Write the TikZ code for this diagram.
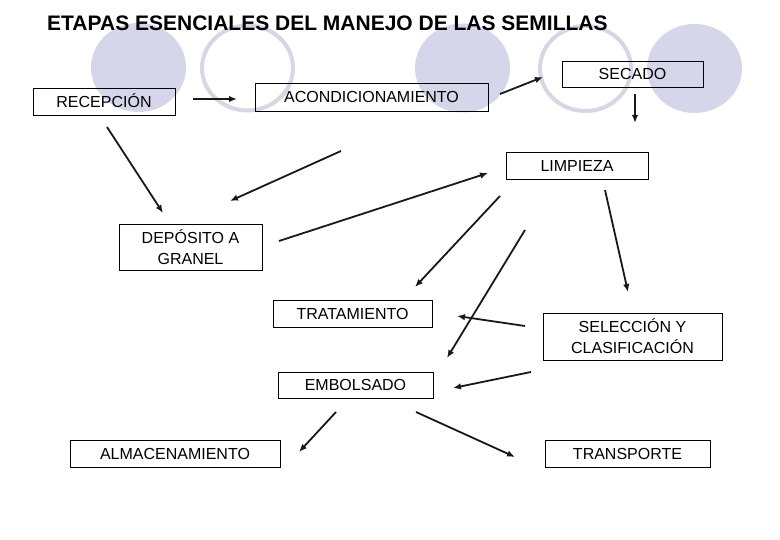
\documentclass[tikz,border=0pt]{standalone}
\usepackage{fontspec}
\setmainfont{Liberation Sans}
\usetikzlibrary{arrows.meta}
\definecolor{lila}{RGB}{214,214,234}
\definecolor{lilaborde}{RGB}{214,214,228}
\tikzset{
  etapa/.style={draw=black, line width=0.8pt, inner sep=0pt, align=center,
    font=\fontsize{16}{21}\selectfont},
  unalinea/.style={text height=11.5pt, text depth=0pt},
  flecha/.style={line width=1.8pt, draw=black!90, -{Latex[length=8pt,width=6.5pt]}},
}
\begin{document}
\begin{tikzpicture}[x=1pt, y=-1pt]
  \fill[white] (0,0) rectangle (780,540);
  \useasboundingbox (0,0) rectangle (780,540);
  % circulos de fondo
  \fill[lila] (138.5,67.5) ellipse [x radius=47.5pt, y radius=44.5pt];
  \draw[lilaborde, line width=4pt] (247.5,68) ellipse [x radius=45.5pt, y radius=42.5pt];
  \fill[lila] (462.5,68) ellipse [x radius=47.5pt, y radius=44.5pt];
  \draw[lilaborde, line width=4pt] (585.5,68.5) ellipse [x radius=45.5pt, y radius=42.5pt];
  \fill[lila] (694.5,68.5) ellipse [x radius=47.5pt, y radius=44.5pt];
  % titulo
  \node[anchor=base west, inner sep=0pt, font=\fontsize{21}{25}\selectfont\bfseries] (titulo) at (47,31) {ETAPAS ESENCIALES DEL MANEJO DE LAS SEMILLAS};
  % etapas
  \node[etapa, unalinea, minimum width=142pt, minimum height=27pt] (recep) at (104,101.5) {RECEPCIÓN};
  \node[etapa, unalinea, minimum width=233pt, minimum height=28pt] (acond) at (371.5,97) {ACONDICIONAMIENTO};
  \node[etapa, unalinea, minimum width=141pt, minimum height=26pt] (secado) at (632.5,74) {SECADO};
  \node[etapa, unalinea, minimum width=142pt, minimum height=27pt] (limp) at (577,165.5) {LIMPIEZA};
  \node[etapa, minimum width=143pt, minimum height=46pt] (deposito) at (190.5,247) {DEPÓSITO A\\ GRANEL};
  \node[etapa, unalinea, minimum width=159pt, minimum height=27pt] (trat) at (352.5,313.5) {TRATAMIENTO};
  \node[etapa, minimum width=179pt, minimum height=47pt] (selec) at (632.5,336.5) {SELECCIÓN Y\\ CLASIFICACIÓN};
  \node[etapa, unalinea, minimum width=155pt, minimum height=26pt] (embol) at (355.5,385) {EMBOLSADO};
  \node[etapa, unalinea, minimum width=210pt, minimum height=27pt] (almac) at (175,453.5) {ALMACENAMIENTO};
  \node[etapa, unalinea, minimum width=165pt, minimum height=27pt] (transp) at (627.5,453.5) {TRANSPORTE};
  % extremos de las flechas
  \coordinate (recep-s) at (193,99);   \coordinate (acond-e) at (237,99);
  \coordinate (acond-s) at (500,94);   \coordinate (secado-e) at (543,77);
  \coordinate (secado-s) at (635,94);  \coordinate (secado-f) at (635,123);
  \coordinate (recep-b) at (107,127);  \coordinate (deposito-e) at (163,213);
  \coordinate (acond-b) at (341,151);  \coordinate (deposito-d) at (230,201);
  \coordinate (deposito-s) at (279,241); \coordinate (limp-e) at (488,173);
  \coordinate (limp-a) at (500,196);   \coordinate (trat-e) at (415,287);
  \coordinate (limp-b) at (525,230);   \coordinate (embol-e) at (447,358);
  \coordinate (limp-c) at (605,190);   \coordinate (selec-e) at (628,292);
  \coordinate (selec-a) at (525,326);  \coordinate (trat-d) at (457,316);
  \coordinate (selec-b) at (531,372);  \coordinate (embol-d) at (453,388);
  \coordinate (embol-a) at (336,412);  \coordinate (almac-e) at (299,452);
  \coordinate (embol-b) at (416,412);  \coordinate (transp-e) at (515,457);
  % flechas
  \draw[flecha] (recep-s) -- (acond-e);
  \draw[flecha] (acond-s) -- (secado-e);
  \draw[flecha] (secado-s) -- (secado-f);
  \draw[flecha] (recep-b) -- (deposito-e);
  \draw[flecha] (acond-b) -- (deposito-d);
  \draw[flecha] (deposito-s) -- (limp-e);
  \draw[flecha] (limp-a) -- (trat-e);
  \draw[flecha] (limp-b) -- (embol-e);
  \draw[flecha] (limp-c) -- (selec-e);
  \draw[flecha] (selec-a) -- (trat-d);
  \draw[flecha] (selec-b) -- (embol-d);
  \draw[flecha] (embol-a) -- (almac-e);
  \draw[flecha] (embol-b) -- (transp-e);
\end{tikzpicture}
\end{document}
